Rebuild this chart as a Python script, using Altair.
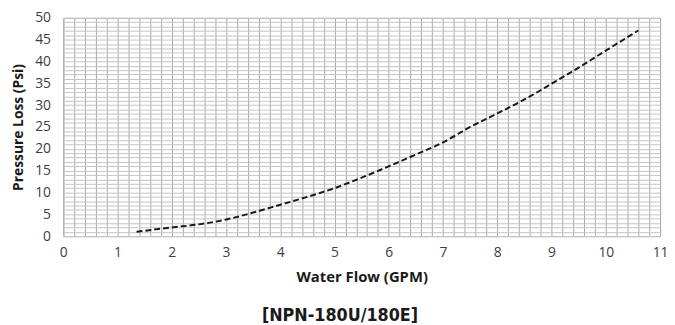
import altair as alt
import pandas as pd

# Data
flow_gpm = [1.35, 2.0, 2.5, 3.0, 3.5, 4.0, 4.5, 5.0, 5.5, 6.0, 6.5, 7.0, 7.5, 8.0, 8.5, 9.0, 9.5, 10.0, 10.6]
pressure_psi = [1.0, 2.0, 2.7, 3.8, 5.4, 7.2, 9.0, 11.0, 13.4, 16.0, 18.7, 21.5, 25.0, 28.1, 31.3, 34.9, 38.6, 42.5, 47.1]

x_grid_values = [round(i * 0.2, 1) for i in range(0, 56)]
y_grid_values = list(range(0, 51))

df = pd.DataFrame({"flow": flow_gpm, "pressure": pressure_psi})

FONT = "Open Sans"

line = alt.Chart(df).mark_line(
    color="#1a1a1a", strokeWidth=2, strokeDash=[6, 3], interpolate="monotone"
).encode(
    x=alt.X(
        "flow:Q",
        scale=alt.Scale(domain=[0, 11], nice=False, zero=False),
        axis=alt.Axis(
            values=x_grid_values,
            labelExpr="abs(datum.value - round(datum.value)) < 0.01 ? format(datum.value, 'd') : ''",
            labelOverlap=False,
            labelFlush=False,
            ticks=False,
            domain=False,
            grid=True,
            gridColor="#a9a9a9",
            gridWidth=1,
            labelPadding=10,
            labelFontSize=14,
            labelColor="#404040",
            labelFont=FONT,
            title="Water Flow (GPM)",
            titleFont=FONT,
            titleFontSize=15,
            titleFontWeight="bold",
            titleColor="#1a1a1a",
            titlePadding=10,
        ),
    ),
    y=alt.Y(
        "pressure:Q",
        scale=alt.Scale(domain=[0, 50], nice=False),
        axis=alt.Axis(
            values=y_grid_values,
            labelExpr="datum.value % 5 == 0 ? format(datum.value, 'd') : ''",
            labelOverlap=False,
            labelFlush=False,
            ticks=False,
            domain=False,
            grid=True,
            gridColor="#c4c4c4",
            gridWidth=1,
            labelPadding=13,
            labelFontSize=14,
            labelColor="#404040",
            labelFont=FONT,
            title="Pressure Loss (Psi)",
            titleFont=FONT,
            titleFontSize=14,
            titleFontWeight="bold",
            titleColor="#1a1a1a",
            titlePadding=9,
        ),
    ),
)

chart = line.properties(
    width=604,
    height=221,
    autosize=alt.AutoSizeParams(type="none"),
    padding={"left": 56, "top": 8, "right": 7, "bottom": 88},
    title=alt.TitleParams(
        text="[NPN-180U/180E]",
        orient="bottom",
        anchor="middle",
        frame="bounds",
        font="DejaVu Sans Condensed, Roboto, sans-serif",
        fontSize=18,
        fontWeight="bold",
        color="#1a1a1a",
        offset=23,
    ),
).configure_view(
    stroke="#a9a9a9", strokeWidth=1
)

chart.save("out.html", embed_options={"renderer": "svg", "actions": False})
